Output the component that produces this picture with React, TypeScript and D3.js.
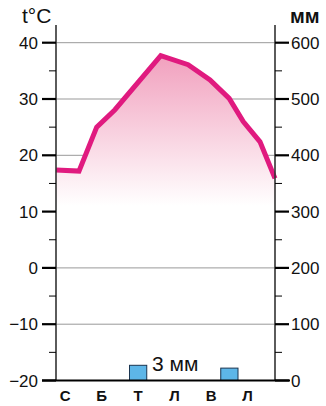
import React from "react";
import * as d3 from "d3";

const monthLabels = ["С", "", "Б", "", "Т", "", "Л", "", "В", "", "Л", ""];
const tempPos = [0, 1.26, 2.23, 3.23, 5.74, 7.24, 8.44, 9.49, 10.26, 11.18, 12];
const tempVals = [17.4, 17.2, 25.0, 28.1, 37.7, 36.1, 33.4, 30.1, 26.0, 22.4, 15.9];
const precipVals = [0, 0, 0, 0, 27, 0, 0, 0, 0, 22, 0, 0];
const tempTicks = [40, 30, 20, 10, 0, -10, -20];
const mmTicks = [600, 500, 400, 300, 200, 100, 0];
const precipLabel = "3 мм";

const W = 326, H = 406;
const L = 56, R = 275, TOP = 42.7, BOT = 380.5;
const FONT = "'Liberation Sans Narrow', 'Arial Narrow', 'Liberation Sans', Arial, sans-serif";

export default function App() {
  const x = d3.scaleLinear().domain([0, 12]).range([L, R]);
  const y = d3.scaleLinear().domain([-20, 40]).range([BOT, TOP]);
  const ym = d3.scaleLinear().domain([0, 600]).range([BOT, TOP]);
  const pts = tempPos.map((p, i) => [p, tempVals[i]] as [number, number]);
  const line = d3.line<[number, number]>().x(d => x(d[0])).y(d => y(d[1]))(pts) || "";
  const area = d3.area<[number, number]>().x(d => x(d[0])).y0(y(8)).y1(d => y(d[1]))(pts) || "";
  const minor = d3.range(-15, 40, 10);
  const bw = x(1) - x(0);
  return (
    <svg width={W} height={H} style={{ position: "absolute", left: 0, top: 0 }}>
      <defs>
        <linearGradient id="g" gradientUnits="userSpaceOnUse" x1={0} x2={0} y1={y(38)} y2={y(11)}>
          <stop offset="0" stopColor="#f19fbd" />
          <stop offset="1" stopColor="#ffffff" />
        </linearGradient>
      </defs>
      <rect width={W} height={H} fill="#fff" />
      {tempTicks.filter(t => t > -20).map(t => (
        <line key={"g" + t} x1={L} x2={R} y1={y(t)} y2={y(t)} stroke="#999" strokeWidth={1} />
      ))}
      <path d={area} fill="url(#g)" />
      {precipVals.map((v, i) => v > 0 ? (
        <rect key={"b" + i} x={x(i) + 0.5} y={ym(v)} width={bw - 1} height={BOT - ym(v)} fill="#5db6e8" stroke="#1a3550" strokeWidth={1} />
      ) : null)}
      <path d={line} fill="none" stroke="#e01a7f" strokeWidth={5} strokeLinejoin="miter" />
      <line x1={L} x2={L} y1={25} y2={BOT} stroke="#333" strokeWidth={1.6} />
      <line x1={R} x2={R} y1={25} y2={BOT} stroke="#333" strokeWidth={1.6} />
      {tempTicks.map(t => (
        <g key={"lt" + t}>
          <line x1={42} x2={L} y1={y(t)} y2={y(t)} stroke="#000" strokeWidth={2.2} />
          <text x={38} y={y(t)} dy="0.36em" textAnchor="end" fontSize={17} fontFamily={FONT} fill="#111">
            {t < 0 ? "−" + Math.abs(t) : t}
          </text>
        </g>
      ))}
      {minor.map(t => (
        <g key={"m" + t}>
          <line x1={49} x2={L} y1={y(t)} y2={y(t)} stroke="#000" strokeWidth={1} />
          <line x1={R} x2={282} y1={y(t)} y2={y(t)} stroke="#000" strokeWidth={1} />
        </g>
      ))}
      {mmTicks.map(t => (
        <g key={"rt" + t}>
          <line x1={R} x2={289} y1={ym(t)} y2={ym(t)} stroke="#000" strokeWidth={2.2} />
          <text x={291} y={ym(t)} dy="0.36em" textAnchor="start" fontSize={17} fontFamily={FONT} fill="#111">{t}</text>
        </g>
      ))}
      <line x1={42} x2={290} y1={BOT} y2={BOT} stroke="#000" strokeWidth={2.2} />
      {monthLabels.map((m, i) => m ? (
        <text key={"mo" + i} x={x(i + 0.5)} y={401} textAnchor="middle" fontSize={15} fontWeight="bold" fontFamily={FONT} fill="#111">{m}</text>
      ) : null)}
      <text x={22} y={23} fontSize={21} fontFamily={FONT} fill="#111">t°C</text>
      <text x={290} y={23} fontSize={20} fontWeight="bold" fontFamily={FONT} fill="#111">мм</text>
      <text x={152} y={371} fontSize={21} fontFamily={FONT} fill="#111">{precipLabel}</text>
    </svg>
  );
}
